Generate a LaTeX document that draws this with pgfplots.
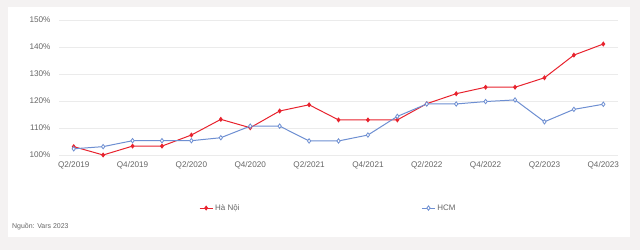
\documentclass[border=0pt]{standalone}
\usepackage{pgfplots}
\pgfplotsset{compat=1.18}
\usepackage{fontspec}
\setmainfont{Liberation Sans}
\definecolor{bgc}{HTML}{F4F2F2}
\definecolor{hn}{HTML}{E8232E}
\definecolor{hcm}{HTML}{6E8FD2}
\definecolor{gridc}{HTML}{EBEBEB}
\definecolor{txt}{HTML}{666666}
\pgfplotstableread{
x hn hcm
0 103.1 102.3
1 100.0 103.1
2 103.3 105.3
3 103.3 105.3
4 107.4 105.3
5 113.2 106.4
6 110.1 110.7
7 116.3 110.7
8 118.6 105.2
9 113.0 105.2
10 113.0 107.4
11 113.0 114.3
12 119.0 118.9
13 122.7 118.9
14 125.1 119.8
15 125.1 120.4
16 128.6 112.3
17 137.0 116.9
18 141.1 118.8
}\datatable
\begin{document}
\begin{tikzpicture}[x=1bp,y=1bp]
\fill[bgc] (0,0) rectangle (640,250);
\fill[white] (8,13) rectangle (630,243);
\path[use as bounding box] (0,0) rectangle (640,250);
\begin{axis}[
  at={(59bp,95bp)}, anchor=south west,
  scale only axis, width=559bp, height=135bp,
  xmin=-0.5, xmax=18.5, ymin=100, ymax=150,
  xtick={0,2,...,18},
  xticklabels={Q2/2019,Q4/2019,Q2/2020,Q4/2020,Q2/2021,Q4/2021,Q2/2022,Q4/2022,Q2/2023,Q4/2023},
  ytick={100,110,...,150},
  yticklabel={\pgfmathprintnumber{\tick}\%},
  /pgf/number format/assume math mode=true,
  axis line style={draw=none},
  major tick length=0pt,
  ymajorgrids, grid style={gridc, line width=0.8pt},
  tick label style={font=\fontsize{8.2}{9}\selectfont, text=txt},
  xticklabel style={yshift=-3bp},
  yticklabel style={xshift=-5bp},
  legend columns=2,
  legend style={at={(0.245,-0.393)}, anchor=west, draw=none, fill=none,
    font=\fontsize{8}{9}\selectfont, text=txt,
    /tikz/every even column/.append style={column sep=180bp}},
  legend image code/.code={\draw[#1, mark repeat=2, mark phase=2] plot coordinates {(0bp,0bp) (6.5bp,0bp) (13bp,0bp)};},
]
\addplot[hn, line width=1pt, mark=diamond*, mark size=1.8bp, mark options={solid, fill=hn}] table[x=x, y=hn] {\datatable};
\addlegendentry{Hà Nội}
\addplot[hcm, line width=1pt, mark=diamond*, mark size=2.2bp, mark options={solid, fill=white, line width=0.8pt}] table[x=x, y=hcm] {\datatable};
\addlegendentry{HCM}
\end{axis}
\node[anchor=west, text=txt, font=\fontsize{7}{8}\selectfont, inner sep=0pt] at (12,23) {Nguồn: Vars 2023};
\end{tikzpicture}
\end{document}
